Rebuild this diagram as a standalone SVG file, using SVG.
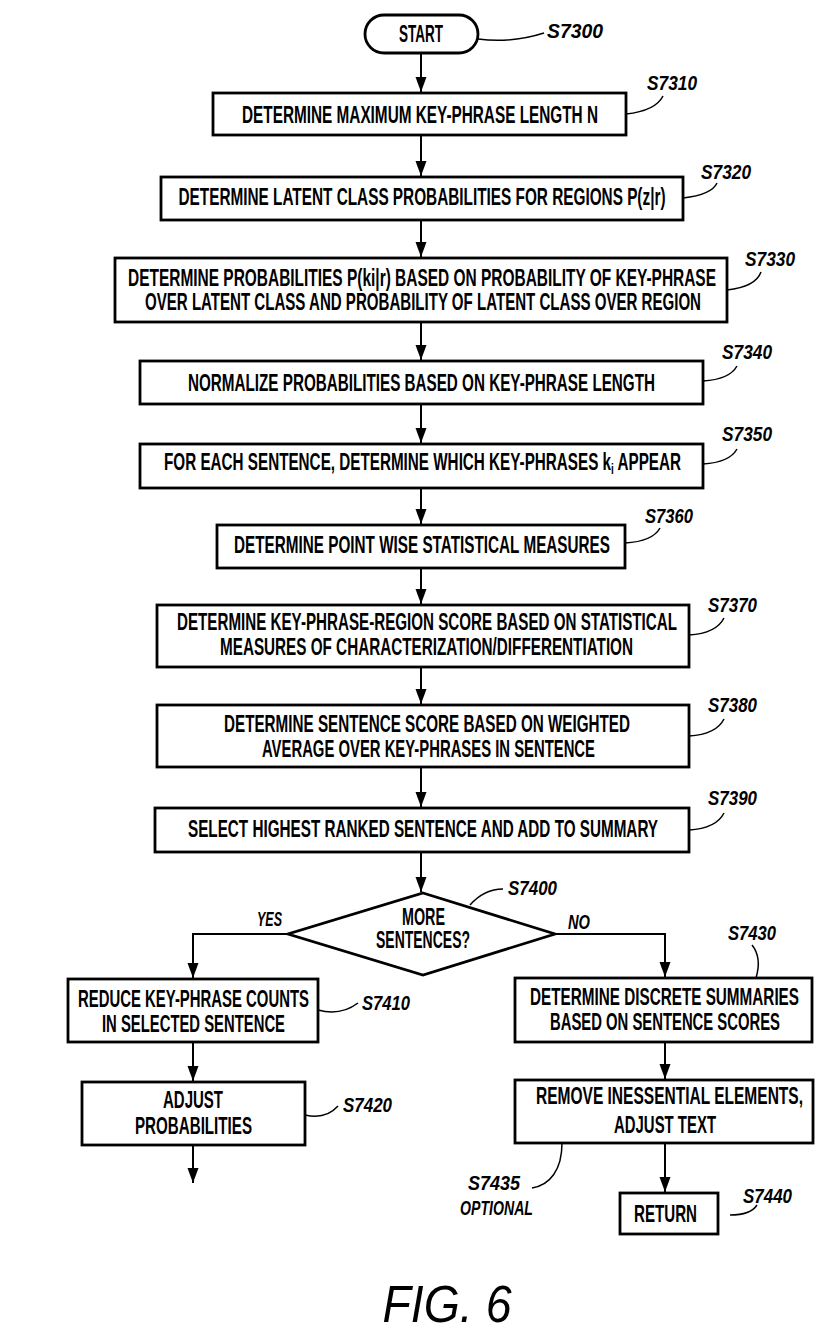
<svg xmlns="http://www.w3.org/2000/svg" width="839" height="1343" viewBox="0 0 839 1343">
<style>
.box{fill:#fff;stroke:#000;stroke-width:2.8}
.t{font-family:"Liberation Sans",Arial,sans-serif;font-weight:bold;font-size:23px;text-anchor:middle;fill:#000}
.lb{font-family:"Liberation Sans",Arial,sans-serif;font-weight:bold;font-style:italic;font-size:20px;fill:#000}
.ld{fill:none;stroke:#000;stroke-width:1.5}
.c{fill:none;stroke:#000;stroke-width:2}
</style>
<defs>
<marker id="ahd" markerUnits="userSpaceOnUse" markerWidth="16" markerHeight="12" viewBox="0 0 16 12" refX="15" refY="6" orient="auto">
<path d="M0 0.5 L15 6 L0 11.5 Z" fill="#000"/>
</marker>
</defs>
<rect width="839" height="1343" fill="#fff"/>
<g id="connectors">
<path class="c" d="M421 53 V92" marker-end="url(#ahd)"/>
<path class="c" d="M421 135 V176" marker-end="url(#ahd)"/>
<path class="c" d="M421 220 V257" marker-end="url(#ahd)"/>
<path class="c" d="M421 322 V360" marker-end="url(#ahd)"/>
<path class="c" d="M421 404 V443" marker-end="url(#ahd)"/>
<path class="c" d="M421 488 V524" marker-end="url(#ahd)"/>
<path class="c" d="M421 568 V604" marker-end="url(#ahd)"/>
<path class="c" d="M421 667 V704" marker-end="url(#ahd)"/>
<path class="c" d="M421 767 V807" marker-end="url(#ahd)"/>
<path class="c" d="M421 852 V892" marker-end="url(#ahd)"/>
<path class="c" d="M288 934 H193 V978" marker-end="url(#ahd)"/>
<path class="c" d="M555 934 H665 V977" marker-end="url(#ahd)"/>
<path class="c" d="M193 1042 V1081" marker-end="url(#ahd)"/>
<path class="c" d="M193 1145 V1183" marker-end="url(#ahd)"/>
<path class="c" d="M665 1042 V1079" marker-end="url(#ahd)"/>
<path class="c" d="M665 1143 V1192" marker-end="url(#ahd)"/>
<text class="lb" x="257" y="926" textLength="25" lengthAdjust="spacingAndGlyphs">YES</text>
<text class="lb" x="568" y="929" textLength="22" lengthAdjust="spacingAndGlyphs">NO</text>
</g>
<g id="leaders">
<path class="ld" d="M478 39 C500 42, 522 40, 544 33"/>
<path class="ld" d="M626 114 C645 112, 658 106, 663 96"/>
<path class="ld" d="M683 198 C700 196, 713 192, 717 183"/>
<path class="ld" d="M727 290 C745 288, 757 283, 761 272"/>
<path class="ld" d="M703 381 C720 380, 732 375, 737 366"/>
<path class="ld" d="M703 464 C720 463, 732 458, 737 449"/>
<path class="ld" d="M625 543 C643 542, 655 537, 660 528"/>
<path class="ld" d="M689 635 C706 634, 719 628, 724 618"/>
<path class="ld" d="M689 736 C706 735, 719 729, 724 719"/>
<path class="ld" d="M689 830 C706 829, 719 823, 724 813"/>
<path class="ld" d="M470 905 C478 896, 490 889, 503 889"/>
<path class="ld" d="M752 945 C760 955, 759 968, 756 978"/>
<path class="ld" d="M318 1010 C332 1014, 346 1012, 358 1003"/>
<path class="ld" d="M305 1115 C318 1118, 330 1115, 338 1106"/>
<path class="ld" d="M532 1188 C550 1185, 562 1170, 562 1143"/>
<path class="ld" d="M730 1215 C742 1215, 752 1213, 757 1205"/>
</g>
<g id="S7300">
<rect class="box" x="365" y="15" width="113" height="38" rx="19"/>
<text class="t" x="421" y="42" textLength="44" lengthAdjust="spacingAndGlyphs">START</text>
<text class="lb" x="547" y="38" textLength="56" lengthAdjust="spacingAndGlyphs">S7300</text>
</g>
<g id="S7310">
<rect class="box" x="213" y="93" width="413" height="42"/>
<text class="t" x="420" y="123" textLength="356" lengthAdjust="spacingAndGlyphs">DETERMINE MAXIMUM KEY-PHRASE LENGTH N</text>
<text class="lb" x="647" y="90" textLength="50" lengthAdjust="spacingAndGlyphs">S7310</text>
</g>
<g id="S7320">
<rect class="box" x="161" y="177" width="522" height="43"/>
<text class="t" x="422" y="205" textLength="487" lengthAdjust="spacingAndGlyphs">DETERMINE LATENT CLASS PROBABILITIES FOR REGIONS P(z|r)</text>
<text class="lb" x="701" y="179" textLength="50" lengthAdjust="spacingAndGlyphs">S7320</text>
</g>
<g id="S7330">
<rect class="box" x="115" y="258" width="612" height="64"/>
<text class="t" x="422" y="286" textLength="588" lengthAdjust="spacingAndGlyphs">DETERMINE PROBABILITIES P(ki|r) BASED ON PROBABILITY OF KEY-PHRASE</text>
<text class="t" x="423" y="310" textLength="556" lengthAdjust="spacingAndGlyphs">OVER LATENT CLASS AND PROBABILITY OF LATENT CLASS OVER REGION</text>
<text class="lb" x="745" y="266" textLength="50" lengthAdjust="spacingAndGlyphs">S7330</text>
</g>
<g id="S7340">
<rect class="box" x="140" y="361" width="563" height="43"/>
<text class="t" x="421.5" y="391" textLength="467" lengthAdjust="spacingAndGlyphs">NORMALIZE PROBABILITIES BASED ON KEY-PHRASE LENGTH</text>
<text class="lb" x="722" y="359" textLength="50" lengthAdjust="spacingAndGlyphs">S7340</text>
</g>
<g id="S7350">
<rect class="box" x="140" y="444" width="563" height="44"/>
<text class="t" x="422.5" y="470" textLength="517" lengthAdjust="spacingAndGlyphs">FOR EACH SENTENCE, DETERMINE WHICH KEY-PHRASES k<tspan font-size="15" dy="4">i</tspan><tspan dy="-4"> APPEAR</tspan></text>
<text class="lb" x="722" y="441" textLength="50" lengthAdjust="spacingAndGlyphs">S7350</text>
</g>
<g id="S7360">
<rect class="box" x="217" y="525" width="408" height="43"/>
<text class="t" x="422" y="553" textLength="376" lengthAdjust="spacingAndGlyphs">DETERMINE POINT WISE STATISTICAL MEASURES</text>
<text class="lb" x="645" y="523" textLength="48" lengthAdjust="spacingAndGlyphs">S7360</text>
</g>
<g id="S7370">
<rect class="box" x="157" y="605" width="532" height="62"/>
<text class="t" x="427" y="630" textLength="500" lengthAdjust="spacingAndGlyphs">DETERMINE KEY-PHRASE-REGION SCORE BASED ON STATISTICAL</text>
<text class="t" x="426.5" y="655" textLength="413" lengthAdjust="spacingAndGlyphs">MEASURES OF CHARACTERIZATION/DIFFERENTIATION</text>
<text class="lb" x="708" y="612" textLength="49" lengthAdjust="spacingAndGlyphs">S7370</text>
</g>
<g id="S7380">
<rect class="box" x="157" y="705" width="532" height="62"/>
<text class="t" x="427" y="732" textLength="406" lengthAdjust="spacingAndGlyphs">DETERMINE SENTENCE  SCORE BASED ON WEIGHTED</text>
<text class="t" x="428.5" y="757" textLength="333" lengthAdjust="spacingAndGlyphs">AVERAGE OVER KEY-PHRASES IN SENTENCE</text>
<text class="lb" x="708" y="712" textLength="49" lengthAdjust="spacingAndGlyphs">S7380</text>
</g>
<g id="S7390">
<rect class="box" x="155" y="808" width="534" height="44"/>
<text class="t" x="423" y="837" textLength="470" lengthAdjust="spacingAndGlyphs">SELECT HIGHEST RANKED SENTENCE AND ADD TO SUMMARY</text>
<text class="lb" x="708" y="805" textLength="49" lengthAdjust="spacingAndGlyphs">S7390</text>
</g>
<g id="S7400">
<polygon class="box" points="423,893 555,934 423,975 288,934" stroke-width="3"/>
<text class="t" x="423.5" y="925" font-size="21" textLength="43" lengthAdjust="spacingAndGlyphs">MORE</text>
<text class="t" x="423" y="948" font-size="21" textLength="94" lengthAdjust="spacingAndGlyphs">SENTENCES?</text>
<text class="lb" x="508" y="895" textLength="49" lengthAdjust="spacingAndGlyphs">S7400</text>
</g>
<g id="S7410">
<rect class="box" x="68" y="979" width="250" height="63"/>
<text class="t" x="193.5" y="1007" textLength="231" lengthAdjust="spacingAndGlyphs">REDUCE KEY-PHRASE COUNTS</text>
<text class="t" x="193.5" y="1032" textLength="183" lengthAdjust="spacingAndGlyphs">IN SELECTED SENTENCE</text>
<text class="lb" x="362" y="1010" textLength="48" lengthAdjust="spacingAndGlyphs">S7410</text>
</g>
<g id="S7420">
<rect class="box" x="82" y="1082" width="223" height="63"/>
<text class="t" x="193" y="1108" textLength="60" lengthAdjust="spacingAndGlyphs">ADJUST</text>
<text class="t" x="193.5" y="1134" textLength="117" lengthAdjust="spacingAndGlyphs">PROBABILITIES</text>
<text class="lb" x="343" y="1112" textLength="49" lengthAdjust="spacingAndGlyphs">S7420</text>
</g>
<g id="S7430">
<rect class="box" x="515" y="978" width="297" height="64"/>
<text class="t" x="664.5" y="1005" textLength="269" lengthAdjust="spacingAndGlyphs">DETERMINE DISCRETE SUMMARIES</text>
<text class="t" x="665" y="1030" textLength="230" lengthAdjust="spacingAndGlyphs">BASED ON SENTENCE SCORES</text>
<text class="lb" x="728" y="940" textLength="48" lengthAdjust="spacingAndGlyphs">S7430</text>
</g>
<g id="S7435">
<rect class="box" x="515" y="1080" width="298" height="63"/>
<text class="t" x="669.5" y="1104" textLength="267" lengthAdjust="spacingAndGlyphs">REMOVE INESSENTIAL ELEMENTS,</text>
<text class="t" x="665" y="1133" textLength="102" lengthAdjust="spacingAndGlyphs">ADJUST TEXT</text>
<text class="lb" x="468" y="1190" textLength="52" lengthAdjust="spacingAndGlyphs">S7435</text>
<text class="lb" x="460" y="1215" textLength="73" lengthAdjust="spacingAndGlyphs">OPTIONAL</text>
</g>
<g id="S7440">
<rect class="box" x="620" y="1193" width="98" height="41" stroke-width="4.5"/>
<text class="t" x="665.5" y="1222" textLength="63" lengthAdjust="spacingAndGlyphs">RETURN</text>
<text class="lb" x="743" y="1203" textLength="49" lengthAdjust="spacingAndGlyphs">S7440</text>
</g>
<text x="447" y="1322" font-family="'Liberation Sans',Arial,sans-serif" font-style="italic" font-size="52" text-anchor="middle" textLength="129" lengthAdjust="spacingAndGlyphs" fill="#000">FIG. 6</text>
</svg>
